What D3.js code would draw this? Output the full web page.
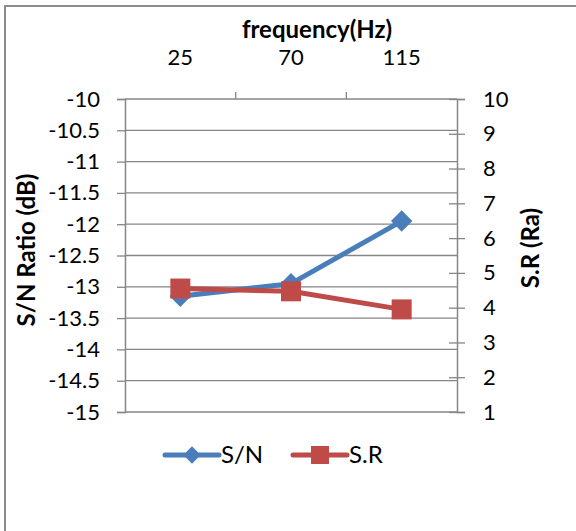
<!DOCTYPE html>
<html><head><meta charset="utf-8">
<script src="https://cdn.jsdelivr.net/npm/d3@7"></script>
<style>body{margin:0;background:#fff}svg{display:block}text{font-family:Lato,"Open Sans",sans-serif;fill:#000}</style>
</head><body><svg id="c" width="576" height="531"></svg>
<script>
const categories = ["25","70","115"];
const snValues = [-13.15, -12.95, -11.95];
const srValues = [4.55, 4.47, 3.95];
const leftTicks = [-10,-10.5,-11,-11.5,-12,-12.5,-13,-13.5,-14,-14.5,-15];
const rightTicks = [1,2,3,4,5,6,7,8,9,10];
const seriesNames = ["S/N","S.R"];

const svg = d3.select("#c");
const L=125, R=457, T=99, B=412;
const gray="#868686";
const blue="#4A7EBB", red="#BE4B48";
const tickFs = 22, titleFs = 24;

svg.append("rect").attr("x",5).attr("y",6).attr("width",600).attr("height",600)
  .attr("fill","none").attr("stroke","#8c8c8c").attr("stroke-width",2);

const x = d3.scaleBand().domain(categories).range([L,R]);
const yL = d3.scaleLinear().domain([-15,-10]).range([B,T]);
const yR = d3.scaleLinear().domain([1,10]).range([B,T]);

// gridlines
svg.append("g").selectAll("line").data(leftTicks).join("line")
  .attr("x1",L).attr("x2",R).attr("y1",d=>yL(d)).attr("y2",d=>yL(d))
  .attr("stroke",gray).attr("stroke-width",1.3);

// left axis
const gl = svg.append("g").attr("transform",`translate(${L},0)`)
  .call(d3.axisLeft(yL).tickValues(leftTicks).tickSize(8).tickPadding(17).tickFormat(d=>String(d)));
gl.select(".domain").attr("stroke",gray).attr("stroke-width",1.5);
gl.selectAll(".tick line").attr("stroke",gray).attr("stroke-width",1.3);
gl.selectAll("text").attr("font-size",tickFs).attr("font-family","Lato").attr("fill","#000");

// right axis
const gr = svg.append("g").attr("transform",`translate(${R},0)`)
  .call(d3.axisRight(yR).tickValues(rightTicks).tickSize(8).tickPadding(18).tickFormat(d=>String(d)));
gr.select(".domain").attr("stroke",gray).attr("stroke-width",1.5);
gr.selectAll(".tick line").attr("stroke",gray).attr("stroke-width",1.3).attr("x1",-8);
gr.selectAll("text").attr("font-size",tickFs).attr("font-family","Lato").attr("fill","#000");

// top axis
const gt = svg.append("g").attr("transform",`translate(0,${T})`)
  .call(d3.axisTop(x).tickSize(0).tickPadding(34));
gt.select(".domain").remove();
gt.selectAll("text").attr("font-size",tickFs).attr("font-family","Lato").attr("fill","#000");
const bounds = x.domain().slice(1).map(d=>x(d));
svg.append("g").selectAll("line").data(bounds).join("line")
  .attr("x1",d=>d).attr("x2",d=>d).attr("y1",T).attr("y2",T-7)
  .attr("stroke",gray).attr("stroke-width",1.3);

// titles
svg.append("text").attr("x",317).attr("y",38).attr("text-anchor","middle")
  .attr("font-size",titleFs).attr("font-weight","bold").text("frequency(Hz)");
svg.append("text").attr("transform","translate(35,250) rotate(-90)").attr("text-anchor","middle")
  .attr("font-size",titleFs).attr("font-weight","bold").text("S/N Ratio (dB)");
svg.append("text").attr("transform","translate(539,248) rotate(-90)").attr("text-anchor","middle")
  .attr("font-size",titleFs).attr("font-weight","bold").text("S.R (Ra)");

const cx = d=>x(d)+x.bandwidth()/2;
const diamond = d3.symbol().type(d3.symbolSquare).size(230);
const snData = categories.map((c,i)=>({c,v:snValues[i]}));
const srData = categories.map((c,i)=>({c,v:srValues[i]}));
svg.append("path").datum(snData).attr("fill","none").attr("stroke",blue).attr("stroke-width",5)
  .attr("stroke-linejoin","round").attr("d",d3.line().x(d=>cx(d.c)).y(d=>yL(d.v)));
svg.append("g").selectAll("path").data(snData).join("path")
  .attr("d",diamond).attr("fill",blue)
  .attr("transform",d=>`translate(${cx(d.c)},${yL(d.v)}) rotate(45)`);
svg.append("path").datum(srData).attr("fill","none").attr("stroke",red).attr("stroke-width",5)
  .attr("stroke-linejoin","round").attr("d",d3.line().x(d=>cx(d.c)).y(d=>yR(d.v)));
svg.append("g").selectAll("rect").data(srData).join("rect")
  .attr("x",d=>cx(d.c)-10).attr("y",d=>yR(d.v)-10).attr("width",20).attr("height",20).attr("fill",red);

// legend
const lg = svg.append("g");
const ly = 455;
const legendItems = [{n:seriesNames[0],c:blue,x0:165,t:"d"},{n:seriesNames[1],c:red,x0:293,t:"s"}];
legendItems.forEach(it=>{
  lg.append("line").attr("x1",it.x0).attr("x2",it.x0+54).attr("y1",ly).attr("y2",ly)
    .attr("stroke",it.c).attr("stroke-width",5).attr("stroke-linecap","round");
  if(it.t==="d"){
    lg.append("path").attr("d",d3.symbol().type(d3.symbolSquare).size(150)).attr("fill",it.c)
      .attr("transform",`translate(${it.x0+27},${ly}) rotate(45)`);
  } else {
    lg.append("rect").attr("x",it.x0+27-9).attr("y",ly-9).attr("width",18).attr("height",18).attr("fill",it.c);
  }
  lg.append("text").attr("x",it.x0+56).attr("y",ly+8).attr("font-size",titleFs).text(it.n);
});
</script></body></html>
